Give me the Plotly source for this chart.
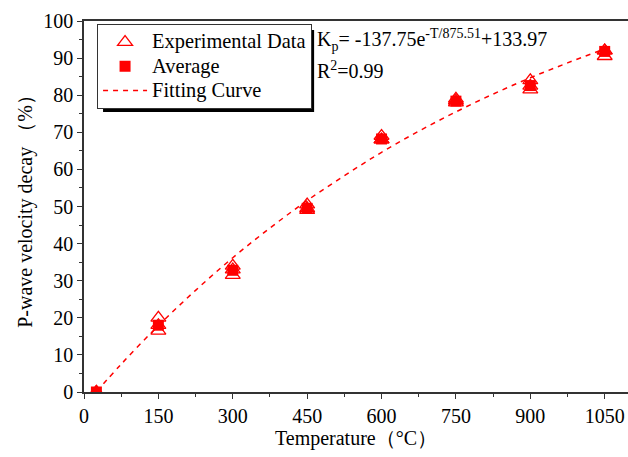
import plotly.graph_objects as go

# Temperatures (°C)
temps = [25, 150, 300, 450, 600, 750, 900, 1050]
# Experimental data: three specimens per temperature (%)
exp_a = [0.0, 20.0, 34.0, 50.5, 69.0, 79.0, 84.0, 92.0]
exp_b = [0.0, 16.5, 31.5, 49.0, 68.0, 78.0, 81.5, 90.5]
exp_c = [0.0, 18.0, 33.0, 49.5, 68.0, 78.5, 82.5, 92.0]
# Average (%)
avg = [0.0, 18.0, 32.8, 49.5, 68.2, 78.4, 82.6, 91.8]
# Fitting curve
fit_t = [25, 75, 150, 225, 300, 375, 450, 525, 600, 675, 750, 825, 900, 975, 1050]
fit_v = [0.1, 7.5, 17.9, 27.4, 36.2, 44.2, 51.6, 58.3, 64.6, 70.3, 75.5, 80.3, 84.7, 88.7, 92.5]

x_ticks = [0, 150, 300, 450, 600, 750, 900, 1050]
y_ticks = [0, 10, 20, 30, 40, 50, 60, 70, 80, 90, 100]

RED = "#FF0000"
FONT = "Liberation Serif"

exp_x = temps * 3
exp_y = exp_a + exp_b + exp_c


def big(s):
    return "<span style='font-size:20.4px'>" + s + "</span>"


fig = go.Figure()
fig.add_trace(go.Scatter(
    x=exp_x, y=exp_y, mode="markers", name=big("Experimental Data"),
    marker=dict(symbol="triangle-up-open", size=13, color=RED, line=dict(width=1.3, color=RED)),
))
fig.add_trace(go.Scatter(
    x=temps, y=avg, mode="markers", name=big("Average"),
    marker=dict(symbol="square", size=11, color=RED),
))
fig.add_trace(go.Scatter(
    x=fit_t, y=fit_v, mode="lines", name=big("Fitting Curve"), line_shape="spline",
    line=dict(color=RED, width=1.5, dash="5px,5px"),
))

# legend shadow
fig.add_shape(type="rect", xref="paper", yref="paper",
              x0=0.035, x1=0.423, y0=0.755, y1=0.976,
              fillcolor="black", line=dict(width=0), layer="above")

fig.add_annotation(xref="paper", yref="paper", x=0.424, y=0.992, xanchor="left", yanchor="top",
                   text="K<sub>p</sub>= -137.75e<sup>-T/875.51</sup>+133.97", showarrow=False,
                   font=dict(family=FONT, size=20, color="black"))
fig.add_annotation(xref="paper", yref="paper", x=0.424, y=0.905, xanchor="left", yanchor="top",
                   text="R<sup>2</sup>=0.99", showarrow=False,
                   font=dict(family=FONT, size=20, color="black"))

fig.update_layout(
    width=628, height=457,
    margin=dict(l=84, r=0, t=21, b=65, autoexpand=False),
    paper_bgcolor="white", plot_bgcolor="white",
    font=dict(family=FONT, size=20, color="black"),
    showlegend=True,
    legend=dict(x=0.024, y=0.992, xanchor="left", yanchor="top",
                bgcolor="white", bordercolor="#333", borderwidth=1,
                font=dict(family=FONT, size=16.3, color="black"),
                itemwidth=44, tracegroupgap=0),
)
fig.update_xaxes(
    range=[0, 1097], tickvals=x_ticks, ticktext=[str(v) for v in x_ticks],
    automargin=False,
    showgrid=False, zeroline=False, showline=True, linecolor="#333", linewidth=1.5,
    mirror=True, ticks="outside", ticklen=5, tickcolor="#333",
    minor=dict(tickvals=[75, 225, 375, 525, 675, 825, 975], ticks="outside", ticklen=3, tickcolor="#333"),
    title=dict(text="Temperature（°C）", font=dict(family=FONT, size=20), standoff=3),
    tickfont=dict(family=FONT, size=20),
)
fig.update_yaxes(
    range=[0, 100], tickvals=y_ticks, ticktext=[str(v) for v in y_ticks],
    automargin=False,
    showgrid=False, zeroline=False, showline=True, linecolor="#333", linewidth=1.5,
    mirror=False, ticks="outside", ticklen=5, tickcolor="#333",
    minor=dict(tickvals=[5, 15, 25, 35, 45, 55, 65, 75, 85, 95], ticks="outside", ticklen=3, tickcolor="#333"),
    title=dict(text="P-wave velocity decay （%）", font=dict(family=FONT, size=20), standoff=5),
    tickfont=dict(family=FONT, size=20),
)

fig.write_html("out.html", config={"displayModeBar": False},
               post_script="document.body.style.margin='0';document.body.style.overflow='hidden';")
